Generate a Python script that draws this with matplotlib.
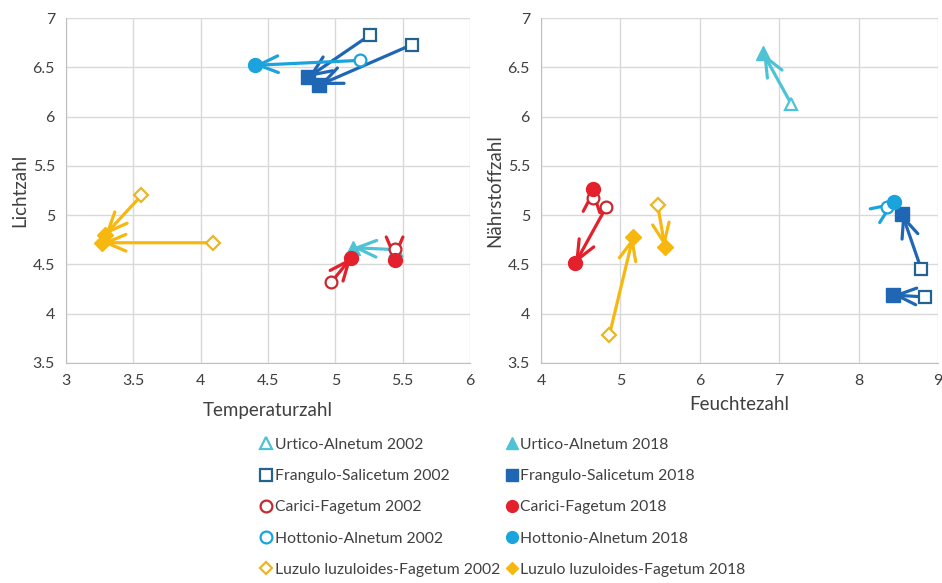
import matplotlib
matplotlib.use("Agg")
import matplotlib.pyplot as plt
from matplotlib.lines import Line2D

plt.rcParams['font.family'] = ['Lato', 'DejaVu Sans']

# ---- data ----
communities = ['Urtico-Alnetum', 'Frangulo-Salicetum', 'Carici-Fagetum',
               'Hottonio-Alnetum', 'Luzulo luzuloides-Fagetum']
markers = ['^', 's', 'o', 'o', 'D']
fill_colors = ['#4EC3D6', '#1F67B4', '#E3202B', '#1BA3DE', '#F6B80F']
open_colors = ['#4EC3D6', '#24628F', '#C8282E', '#1BA3DE', '#EBB524']

# left panel: Temperaturzahl (x) vs Lichtzahl (y)
left_comm = [0, 1, 1, 2, 2, 3, 4, 4]
temp_2002 = [5.45, 5.26, 5.57, 4.97, 5.44, 5.18, 3.56, 4.09]
light_2002 = [4.65, 6.83, 6.73, 4.32, 4.66, 6.57, 5.20, 4.72]
temp_2018 = [5.13, 4.80, 4.88, 5.12, 5.44, 4.40, 3.29, 3.27]
light_2018 = [4.67, 6.40, 6.32, 4.57, 4.54, 6.52, 4.80, 4.72]

# right panel: Feuchtezahl (x) vs Nährstoffzahl (y)
right_comm = [0, 1, 1, 2, 2, 3, 4, 4]
moist_2002 = [7.15, 8.79, 8.83, 4.65, 4.82, 8.36, 4.86, 5.47]
nutr_2002 = [6.13, 4.45, 4.17, 5.17, 5.08, 5.08, 3.78, 5.10]
moist_2018 = [6.80, 8.55, 8.43, 4.66, 4.43, 8.45, 5.16, 5.56]
nutr_2018 = [6.64, 5.01, 4.19, 5.27, 4.51, 5.13, 4.78, 4.68]

left_xticks = [3, 3.5, 4, 4.5, 5, 5.5, 6]
right_xticks = [4, 5, 6, 7, 8, 9]
yticks = [3.5, 4, 4.5, 5, 5.5, 6, 6.5, 7]

fig = plt.figure(figsize=(9.42, 5.83), dpi=100)
axL = fig.add_axes([66/942, 220/583, 404/942, 345/583])
axR = fig.add_axes([541/942, 220/583, 397/942, 345/583])

text_col = '#404040'
grid_col = '#D9D9D9'


def style(ax, xt, xl, yl, xpad):
    ax.set_xlim(xt[0], xt[-1])
    ax.set_ylim(3.5, 7)
    ax.set_xticks(xt)
    ax.set_yticks(yticks)
    ax.set_xticklabels([f'{v:g}' for v in xt])
    ax.set_yticklabels([f'{v:g}' for v in yticks])
    ax.tick_params(length=0, labelsize=11.5, colors=text_col, pad=8)
    ax.grid(True, color=grid_col, lw=1)
    ax.set_axisbelow(True)
    for s in ['top', 'right']:
        ax.spines[s].set_visible(False)
    for s in ['left', 'bottom']:
        ax.spines[s].set_color('#BFBFBF')
    ax.set_xlabel(xl, fontsize=13.5, color=text_col, labelpad=xpad)
    ax.set_ylabel(yl, fontsize=13.5, color=text_col, labelpad=3)


def draw(ax, comm, x0, y0, x1, y1):
    for c, a, b, e, f in zip(comm, x0, y0, x1, y1):
        col = fill_colors[c]
        ax.annotate('', xy=(e, f), xytext=(a, b),
                    arrowprops=dict(arrowstyle='->,head_length=1.4,head_width=0.6',
                                    color=col, lw=2.3, shrinkA=0, shrinkB=0),
                    zorder=3)
        ms_open = 7 if markers[c] == 'D' else 8.5
        ms_fill = 8 if markers[c] == 'D' else 10
        ax.plot([a], [b], marker=markers[c], ms=ms_open, mfc='white',
                mec=open_colors[c], mew=1.6, ls='none', zorder=4)
        ax.plot([e], [f], marker=markers[c], ms=ms_fill, mfc=col,
                mec=col, ls='none', zorder=4)


style(axL, left_xticks, 'Temperaturzahl', 'Lichtzahl', 10)
style(axR, right_xticks, 'Feuchtezahl', 'Nährstoffzahl', 6)
draw(axL, left_comm, temp_2002, light_2002, temp_2018, light_2018)
draw(axR, right_comm, moist_2002, nutr_2002, moist_2018, nutr_2018)

handles, labels = [], []
for yr, filled in [('2002', False), ('2018', True)]:
    for i, name in enumerate(communities):
        ms = 6.5 if markers[i] == 'D' else 8.5
        if filled:
            h = Line2D([], [], marker=markers[i], ls='none', ms=ms,
                       mfc=fill_colors[i], mec=fill_colors[i])
        else:
            h = Line2D([], [], marker=markers[i], ls='none', ms=ms,
                       mfc='white', mec=open_colors[i], mew=1.6)
        handles.append(h)
        labels.append(f'{name} {yr}')

fig.legend(handles, labels, ncol=2, loc='upper left',
           bbox_to_anchor=(253/942, 1 - 430/583), frameon=False,
           fontsize=11.3, labelspacing=1.1, handlelength=0.7,
           handletextpad=0.22, columnspacing=0.35, borderpad=0,
           labelcolor=text_col)

fig.savefig('out.png', dpi=100)
